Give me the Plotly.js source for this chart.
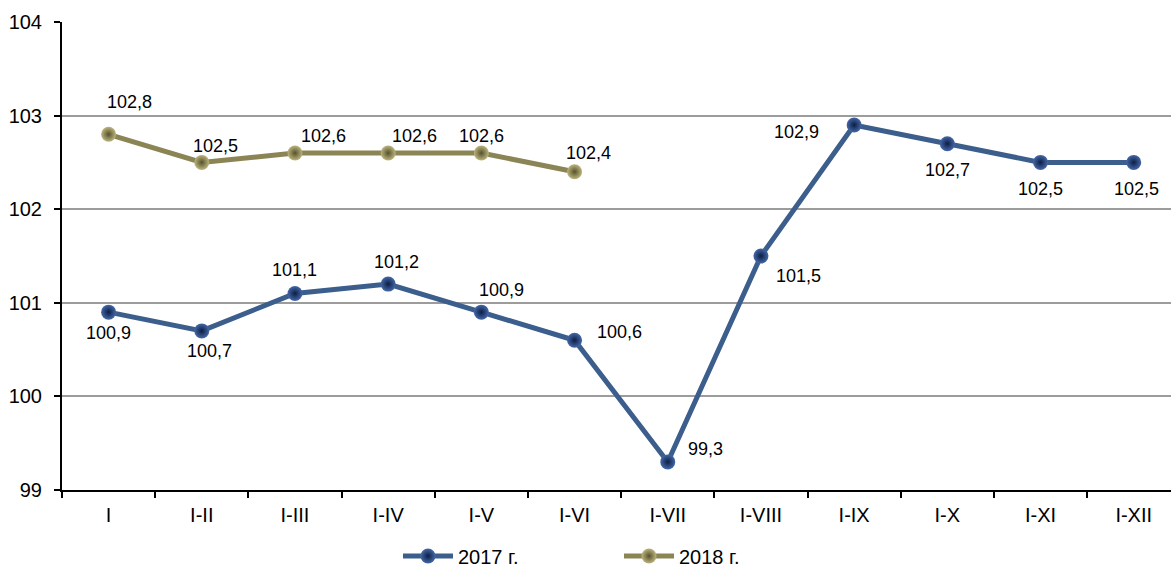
<!DOCTYPE html>
<html>
<head>
<meta charset="utf-8">
<script src="https://cdn.plot.ly/plotly-3.0.1.min.js"></script>
<style>
html,body{margin:0;padding:0;background:#fff;}
#chart{width:1171px;height:567px;}
</style>
</head>
<body>
<div id="chart"></div>
<script>
const categories = ['I','I-II','I-III','I-IV','I-V','I-VI','I-VII','I-VIII','I-IX','I-X','I-XI','I-XII'];
const values2017 = [100.9,100.7,101.1,101.2,100.9,100.6,99.3,101.5,102.9,102.7,102.5,102.5];
const values2018 = [102.8,102.5,102.6,102.6,102.6,102.4];
const seriesNames = ['2017 г.','2018 г.'];

// label offsets (pixels) – styling only
const off2017 = [[0,21],[8,20],[0,-23],[8,-22],[20,-22],[45,-8],[38,-13],[38,20],[-58,7],[0,26],[0,27],[3,27]];
const off2018 = [[21,-32],[14,-16],[29,-17],[26,-17],[0,-17],[14,-19]];

const fmt = v => v.toFixed(1).replace('.', ',');
const FONT = 'Liberation Sans, Arial, sans-serif';

const annotations = [];
values2017.forEach((v,i)=>annotations.push({x:categories[i],y:v,text:fmt(v),showarrow:false,
  xshift:off2017[i][0],yshift:-off2017[i][1],font:{family:FONT,size:18,color:'#000'}}));
values2018.forEach((v,i)=>annotations.push({x:categories[i],y:v,text:fmt(v),showarrow:false,
  xshift:off2018[i][0],yshift:-off2018[i][1],font:{family:FONT,size:18,color:'#000'}}));

const traces = [
  {x:categories,y:values2017,name:seriesNames[0],type:'scatter',mode:'lines+markers',
   line:{color:'#3b5e8c',width:5},
   marker:{size:15,color:'#4468a8',gradient:{type:'radial',color:'#0c1e44'},line:{width:0}}},
  {x:categories.slice(0,values2018.length),y:values2018,name:seriesNames[1],type:'scatter',mode:'lines+markers',
   line:{color:'#8b8555',width:5},
   marker:{size:15,color:'#bdb57e',gradient:{type:'radial',color:'#55512c'},line:{width:0}}}
];

const layout = {
  width:1171,height:567,
  margin:{l:62,r:0,t:22,b:77,autoexpand:false},
  paper_bgcolor:'#fff',plot_bgcolor:'#fff',
  font:{family:FONT,size:20,color:'#000'},
  showlegend:true,
  legend:{orientation:'h',x:398/1171,xref:'container',xanchor:'left',
    y:11/567,yref:'container',yanchor:'middle',
    font:{family:FONT,size:20,color:'#000'},itemwidth:50,entrywidth:156,tracegroupgap:0},
  xaxis:{type:'category',range:[-0.5,11.4],showgrid:false,zeroline:false,automargin:false,
    showline:true,linecolor:'#000',linewidth:2,
    ticks:'outside',tickson:'boundaries',ticklen:6,tickwidth:2,tickcolor:'#000',
    ticklabelstandoff:6,
    tickfont:{family:FONT,size:20,color:'#000'},fixedrange:true},
  yaxis:{range:[99,104],dtick:1,tick0:99,showgrid:true,gridcolor:'#9c9c9c',gridwidth:2,automargin:false,
    zeroline:false,showline:true,linecolor:'#000',linewidth:2,
    ticks:'outside',ticklen:6,tickwidth:2,tickcolor:'#000',ticklabelstandoff:8,
    tickfont:{family:FONT,size:20,color:'#000'},fixedrange:true},
  annotations:annotations
};

Plotly.newPlot('chart',traces,layout,{displayModeBar:false,staticPlot:true});
</script>
</body>
</html>
